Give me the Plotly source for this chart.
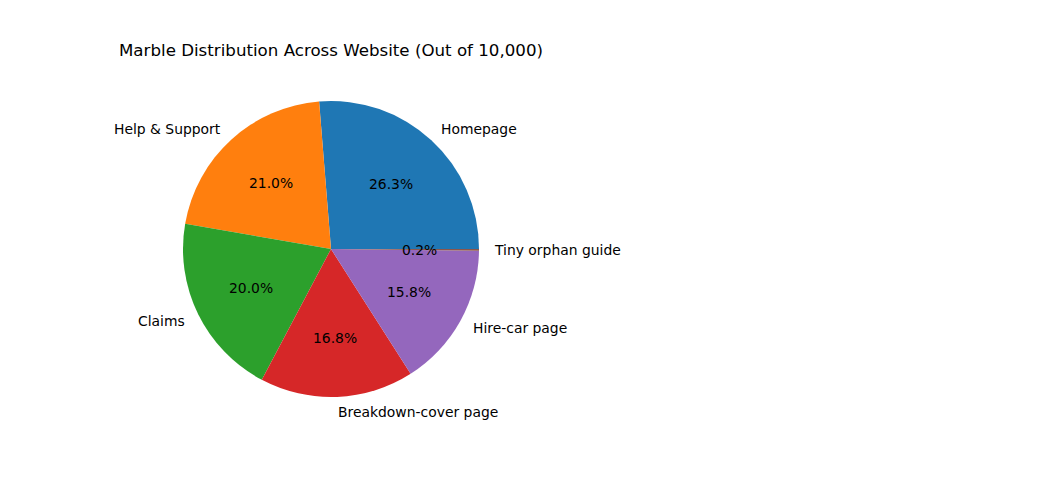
import math
import plotly.graph_objects as go

labels = ["Homepage", "Help & Support", "Claims", "Breakdown-cover page", "Hire-car page", "Tiny orphan guide"]
values = [2628, 2100, 1998, 1678, 1576, 20]
colors = ["#1f77b4", "#ff7f0e", "#2ca02c", "#d62728", "#9467bd", "#8c564b"]

W, H = 1050, 500
OFF = 8  # page body margin
cx, cy, r = 331 - OFF, 249 - OFF, 148  # pixel centre / radius of the pie

total = sum(values)
# plotly's counterclockwise pie ends the first slice at the rotation angle;
# rotate so that the first slice starts at 3 o'clock like matplotlib
rot = 90 - 360 * values[0] / total

fig = go.Figure()
fig.add_trace(go.Pie(
    labels=labels, values=values, sort=False, direction="counterclockwise",
    rotation=rot, textinfo="none", marker=dict(colors=colors, line=dict(width=0)),
    domain=dict(x=[(cx - r) / W, (cx + r) / W], y=[(H - cy - r) / H, (H - cy + r) / H]),
    showlegend=False,
))

cum = 0
font = dict(family="DejaVu Sans", size=13.9, color="black")
for lab, v in zip(labels, values):
    mid = (cum + v / 2) / total * 2 * math.pi
    cum += v
    c, s = math.cos(mid), math.sin(mid)
    lx, ly = cx + 1.1 * r * c, cy - 1.1 * r * s
    fig.add_annotation(x=lx / W, y=1 - ly / H, xref="paper", yref="paper", text=lab,
                       showarrow=False, xanchor="left" if c > 0 else "right", yanchor="middle",
                       xshift=-2 if c > 0 else 2, font=font)
    px, py = cx + 0.6 * r * c, cy - 0.6 * r * s
    fig.add_annotation(x=px / W, y=1 - py / H, xref="paper", yref="paper",
                       text=f"{100 * v / total:.1f}%", showarrow=False,
                       xanchor="center", yanchor="middle", font=font)

fig.add_annotation(x=cx / W, y=1 - (51 - OFF) / H, xref="paper", yref="paper",
                   text="Marble Distribution Across Website (Out of 10,000)", showarrow=False,
                   xanchor="center", yanchor="middle",
                   font=dict(family="DejaVu Sans", size=16.67, color="black"))

fig.update_layout(width=W, height=H, margin=dict(l=0, r=0, t=0, b=0),
                  paper_bgcolor="white", plot_bgcolor="white")
fig.write_html("out.html")
